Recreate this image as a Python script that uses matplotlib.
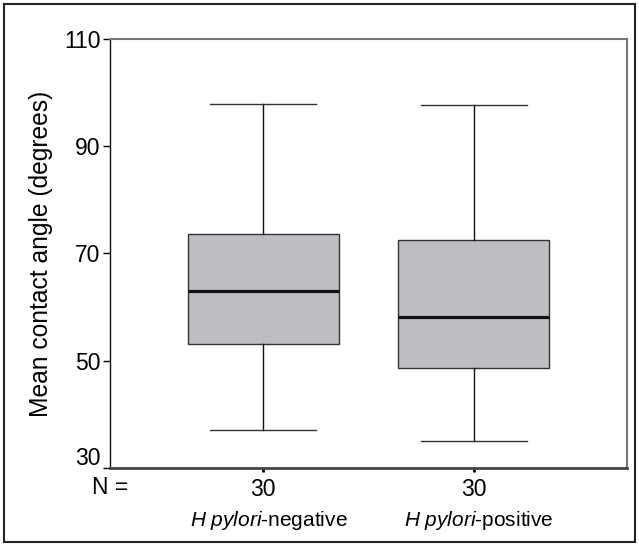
import matplotlib
matplotlib.use("Agg")
import matplotlib.pyplot as plt
from matplotlib.patches import Rectangle
import matplotlib.transforms as mtransforms

plt.rcParams['font.family'] = ['Liberation Sans', 'DejaVu Sans']
plt.rcParams['mathtext.fontset'] = 'custom'
plt.rcParams['mathtext.rm'] = 'Liberation Sans'
plt.rcParams['mathtext.it'] = 'Liberation Sans:italic'

# Data
groups = ["H pylori-negative", "H pylori-positive"]
n_counts = [30, 30]
whisker_low = [37.1, 35.1]
q1 = [53.1, 48.6]
median = [63.0, 58.1]
q3 = [73.7, 72.5]
whisker_high = [97.8, 97.6]
yticks = [30, 50, 70, 90, 110]

fig = plt.figure(figsize=(6.39, 5.44), dpi=100)
ax = fig.add_axes([110/639, 1-468/544, (627-110)/639, (468-39)/544])

stats = []
for i in range(len(groups)):
    stats.append(dict(label=groups[i], whislo=whisker_low[i], q1=q1[i],
                      med=median[i], q3=q3[i], whishi=whisker_high[i], fliers=[]))

positions = [1, 2]
ax.bxp(stats, positions=positions, widths=0.717, capwidths=0.503,
       showfliers=False, patch_artist=True,
       boxprops=dict(facecolor='#bdbec2', edgecolor='#333333', linewidth=1.0),
       medianprops=dict(color='#111111', linewidth=2.3),
       whiskerprops=dict(color='#111111', linewidth=1.0),
       capprops=dict(color='#333333', linewidth=1.0))

ax.set_xlim(0.273, 2.727)
ax.set_ylim(30, 110)
ax.set_yticks(yticks)
ax.set_yticklabels([str(v) for v in yticks], fontsize=16.5)
ax.set_xticks(positions)
ax.set_xticklabels([str(n) for n in n_counts], fontsize=16.5)
ax.tick_params(axis='y', direction='out', length=5, width=1, pad=2)
ax.tick_params(axis='x', direction='out', length=3, width=2, pad=4)

# lowest y tick label sits a little above its tick in the reference
fig.canvas.draw()
lowest = ax.get_yticklabels()[0]
lowest.set_transform(lowest.get_transform() +
                     mtransforms.ScaledTranslation(0, 12/100, fig.dpi_scale_trans))

ax.set_ylabel("Mean contact angle (degrees)", fontsize=17.7, labelpad=8)

ax.spines['left'].set_linewidth(1.0)
ax.spines['left'].set_color('#111111')
ax.spines['bottom'].set_linewidth(2.0)
ax.spines['bottom'].set_color('#444444')
ax.spines['top'].set_linewidth(1.5)
ax.spines['top'].set_color('#777777')
ax.spines['right'].set_linewidth(1.5)
ax.spines['right'].set_color('#777777')

# "N =" label
fig.text(110/639, 1-488/544, "N =", fontsize=16.5, ha='center', va='center')

# category labels with italic species part
cat_trans = mtransforms.blended_transform_factory(ax.transData, fig.transFigure)
for pos, g in zip(positions, groups):
    species, rest = g.split('-', 1)
    label = r"$\it{" + species.replace(' ', r'\ ') + r"}$-" + rest
    ax.text(pos + 0.025, 1-521/544, label, transform=cat_trans, fontsize=15,
            ha='center', va='center')

# outer frame
fig.patches.append(Rectangle((4/639, 2/544), 631/639, 538/544, transform=fig.transFigure,
                             fill=False, edgecolor='#222222', linewidth=1.5))

fig.savefig("out.png", dpi=100)
